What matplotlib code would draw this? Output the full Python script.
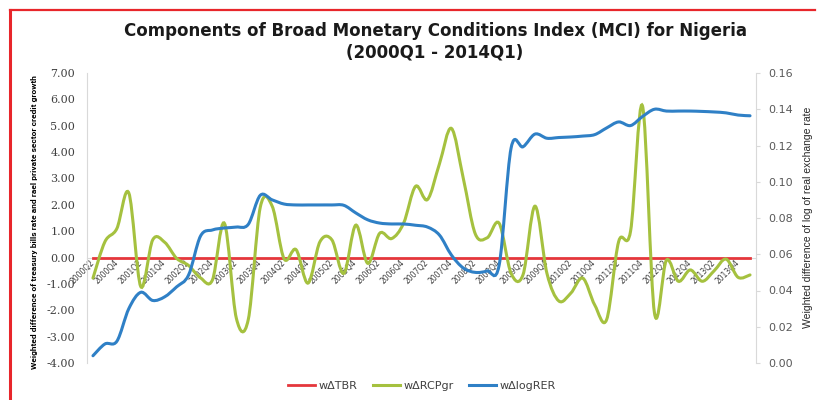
import matplotlib
matplotlib.use("Agg")
import matplotlib.pyplot as plt
from matplotlib.path import Path
from matplotlib.patches import PathPatch
from matplotlib.lines import Line2D
import numpy as np

# quarters 2000Q2 .. 2014Q1
quarters = [f"{y}Q{q}" for y in range(2000, 2015) for q in range(1, 5)][1:57]

# weighted change of treasury bills rate (left axis)
w_tbr = [0.0] * 56

# weighted real private sector credit growth (left axis)
w_rcpgr = [-0.78, 0.60, 1.10, 2.45, -1.10, 0.67, 0.58, -0.03, -0.30, -0.77,
           -0.85, 1.30, -2.30, -2.35, 1.90, 1.95, -0.05, 0.30, -0.97, 0.60,
           0.67, -0.60, 1.23, -0.22, 0.92, 0.72, 1.30, 2.70, 2.20, 3.55,
           4.90, 3.00, 0.90, 0.75, 1.30, -0.60, -0.65, 1.95, -0.60, -1.65,
           -1.35, -0.78, -1.80, -2.35, 0.60, 1.00, 5.75, -2.10, -0.10, -0.90,
           -0.47, -0.90, -0.50, -0.06, -0.75, -0.66]

# weighted change of log real exchange rate (right axis)
w_logrer = [0.0040, 0.0105, 0.0120, 0.0300, 0.0390, 0.0345, 0.0365, 0.0420,
            0.0485, 0.0700, 0.0734, 0.0745, 0.0750, 0.0765, 0.0925, 0.0900,
            0.0877, 0.0872, 0.0872, 0.0872, 0.0872, 0.0870, 0.0828, 0.0790,
            0.0772, 0.0767, 0.0767, 0.0760, 0.0750, 0.0706, 0.0596, 0.0524,
            0.0500, 0.0508, 0.0540, 0.1186, 0.1193, 0.1263, 0.1240, 0.1244,
            0.1247, 0.1252, 0.1260, 0.1297, 0.1330, 0.1310, 0.1360, 0.1400,
            0.1390, 0.1390, 0.1390, 0.1388, 0.1385, 0.1380, 0.1368, 0.1364]

left_ticks = [-4, -3, -2, -1, 0, 1, 2, 3, 4, 5, 6, 7]
right_ticks = [0.00, 0.02, 0.04, 0.06, 0.08, 0.10, 0.12, 0.14, 0.16]

RED = "#E5373C"
GREEN = "#A5C13F"
BLUE = "#2F80C6"
GRAY = "#D9D9D9"
TXT = "#404040"


def smooth_path(x, y):
    # excel style smoothed line: catmull-rom as cubic bezier
    pts = np.column_stack([x, y]).astype(float)
    ext = np.vstack([pts[0], pts, pts[-1]])
    verts = [pts[0]]
    codes = [Path.MOVETO]
    for i in range(len(pts) - 1):
        p0, p1, p2, p3 = ext[i], ext[i + 1], ext[i + 2], ext[i + 3]
        verts += [p1 + (p2 - p0) / 6, p2 - (p3 - p1) / 6, p2]
        codes += [Path.CURVE4] * 3
    return Path(verts, codes)


fig = plt.figure(figsize=(8.21, 4.0), dpi=100)
ax = fig.add_axes([87 / 821, 1 - 363 / 400, (756 - 87) / 821, (363 - 73) / 400])
ax2 = ax.twinx()

x = np.arange(len(quarters))

ax.plot(x, w_tbr, color=RED, lw=2.0, zorder=3)
ax.add_patch(PathPatch(smooth_path(x, w_rcpgr), fill=False, edgecolor=GREEN,
                       lw=2.2, capstyle="round", zorder=4))
ax2.add_patch(PathPatch(smooth_path(x, w_logrer), fill=False, edgecolor=BLUE,
                        lw=2.2, capstyle="round", zorder=4))

ax.set_xlim(-0.5, len(quarters) - 0.5)
ax.set_ylim(-4, 7)
ax2.set_ylim(0, 0.16)

# left axis
ax.set_yticks(left_ticks)
ax.set_yticklabels([f"{v:.2f}" for v in left_ticks], family="DejaVu Serif",
                   fontsize=8, color=TXT)
ax.tick_params(axis="y", length=0, pad=8.5)

# right axis
ax2.set_yticks(right_ticks)
ax2.set_yticklabels([f"{v:.2f}" for v in right_ticks], fontsize=8, color="#595959")
ax2.tick_params(axis="y", length=3, width=0.8, color=GRAY, pad=6)

# category axis crosses at zero
ax.spines["bottom"].set_position(("data", 0))
ax.spines["bottom"].set_color(GRAY)
ax.set_xticks(x[::2])
ax.set_xticklabels(quarters[::2], rotation=45, ha="right", va="center",
                   rotation_mode="anchor", fontsize=5.5, color=TXT)
ax.tick_params(axis="x", length=0, pad=3)

for a in (ax, ax2):
    a.spines["top"].set_visible(False)
ax2.spines["bottom"].set_visible(False)
ax.spines["left"].set_color(GRAY)
ax.spines["right"].set_visible(False)
ax2.spines["left"].set_visible(False)
ax2.spines["right"].set_color(GRAY)

# titles and axis labels
fig.text(435 / 821, 1 - 31 / 400, "Components of Broad Monetary Conditions Index (MCI) for Nigeria",
         ha="center", va="center", fontsize=12, fontweight="bold", color="#1a1a1a")
fig.text(435 / 821, 1 - 52 / 400, "(2000Q1 - 2014Q1)",
         ha="center", va="center", fontsize=12, fontweight="bold", color="#1a1a1a")
fig.text(35 / 821, 1 - 222 / 400,
         "Weighted difference of treasury bills rate and rael private sector credit growth",
         rotation=90, ha="center", va="center", fontsize=6.0, fontweight="bold",
         family=["Roboto", "DejaVu Sans"], color="black")
fig.text(808 / 821, 1 - 217 / 400, "Weighted difference of log of real exchange rate",
         rotation=90, ha="center", va="center", fontsize=7.5,
         family=["Liberation Sans", "DejaVu Sans"], color="#262626")

# legend
handles = [Line2D([], [], color=RED, lw=2.0),
           Line2D([], [], color=GREEN, lw=2.2),
           Line2D([], [], color=BLUE, lw=2.2)]
labels = ["w\u0394TBR", "w\u0394RCPgr", "w\u0394logRER"]
leg = fig.legend(handles, labels, loc="center", bbox_to_anchor=(422 / 821, 1 - 386 / 400),
                 ncol=3, frameon=False, fontsize=8, handlelength=2.4,
                 handletextpad=0.35, columnspacing=1.4)
for t in leg.get_texts():
    t.set_color(TXT)

# red frame of the screenshot
fig.add_artist(Line2D([9.5 / 821, 9.5 / 821], [0, 1 - 10 / 400], color="#E8262B",
                      lw=2.2, transform=fig.transFigure))
fig.add_artist(Line2D([9.5 / 821, 815 / 821], [1 - 10 / 400, 1 - 10 / 400], color="#E8262B",
                      lw=1.6, transform=fig.transFigure))

fig.savefig("out.png", dpi=100)
